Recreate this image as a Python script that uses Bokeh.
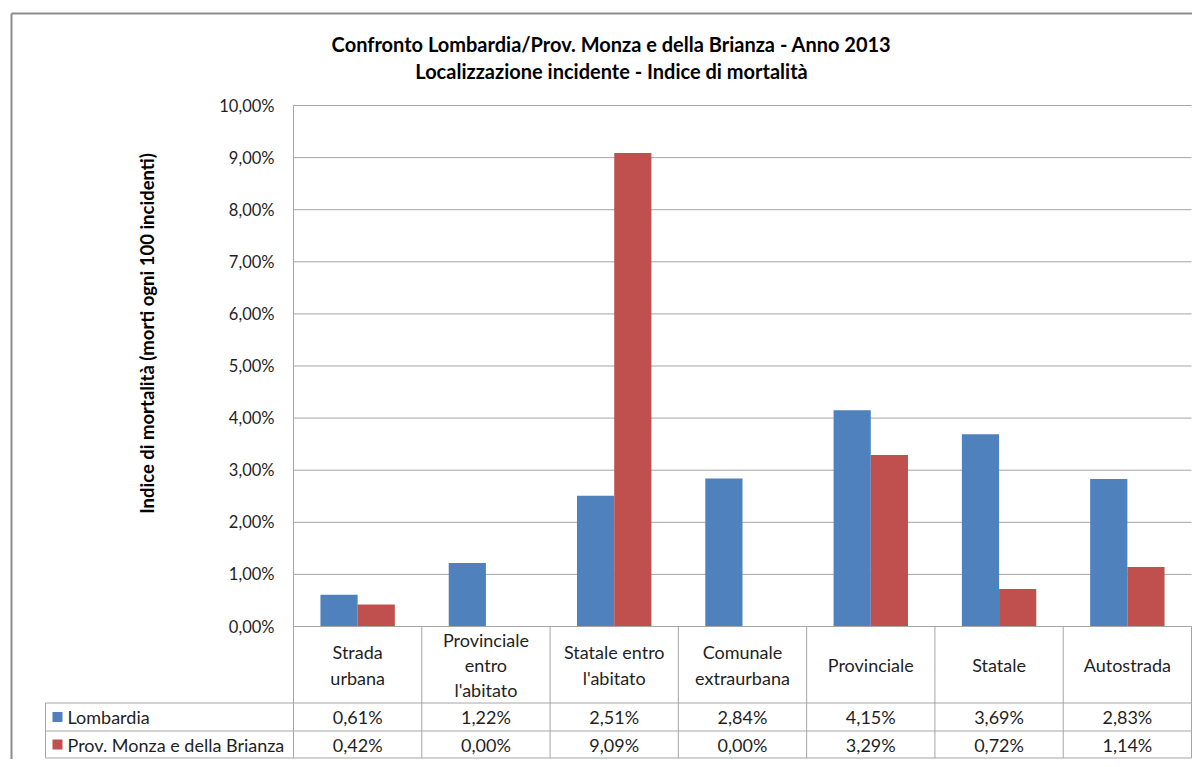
import math
from bokeh.plotting import figure
from bokeh.models import ColumnDataSource, Range1d
from bokeh.core.properties import value
from bokeh.embed import file_html
from bokeh.resources import INLINE

# ---------------- data ----------------
categories = ["Strada\nurbana", "Provinciale\nentro\nl'abitato", "Statale entro\nl'abitato",
              "Comunale\nextraurbana", "Provinciale", "Statale", "Autostrada"]
series_names = ["Lombardia", "Prov. Monza e della Brianza"]
lombardia = [0.61, 1.22, 2.51, 2.84, 4.15, 3.69, 2.83]
monza = [0.42, 0.00, 9.09, 0.00, 3.29, 0.72, 1.14]
y_ticks = [0, 1, 2, 3, 4, 5, 6, 7, 8, 9, 10]
y_tick_labels = ["0,00%", "1,00%", "2,00%", "3,00%", "4,00%", "5,00%",
                 "6,00%", "7,00%", "8,00%", "9,00%", "10,00%"]
title1 = "Confronto Lombardia/Prov. Monza e della Brianza - Anno 2013"
title2 = "Localizzazione incidente - Indice di mortalità"
y_title = "Indice di mortalità (morti ogni 100 incidenti)"
colors = ["#4F81BD", "#C0504D"]

def pct(v):
    return ("%.2f" % v).replace(".", ",") + "%"

# ---------------- layout ----------------
W, H = 1192, 759
PL, PR, PT, PB = 293, 1191, 105, 626          # plot area in pixels
n = len(categories)
kx = (PR - PL) / n
ky = (PB - PT) / 10.0

def dx(X):
    return (X - PL) / kx

def dy(Y):
    return (PB - Y) / ky

p = figure(width=W, height=H, output_backend="svg", toolbar_location=None,
           x_range=Range1d(dx(0), dx(W)), y_range=Range1d(dy(H), dy(0)),
           x_axis_location=None, y_axis_location=None, min_border=0,
           outline_line_color=None, background_fill_color="white",
           border_fill_color="white")
p.xgrid.visible = False
p.ygrid.visible = False

FONT = value("Lato")
TXT = "#1F1F1F"
GRID = "#A6A6A6"

# outer chart border
p.segment(x0=[dx(11), dx(11)], y0=[dy(13), dy(13)], x1=[dx(1250), dx(11)], y1=[dy(13), dy(820)],
          line_color="#8C8C8C", line_width=2)

# titles
p.text(x=[dx(611)], y=[dy(43)], text=[title1], text_font=FONT, text_font_style="bold",
       text_font_size="20px", text_align="center", text_baseline="middle", text_color="black")
p.text(x=[dx(611)], y=[dy(70)], text=[title2], text_font=FONT, text_font_style="bold",
       text_font_size="20px", text_align="center", text_baseline="middle", text_color="black")
p.text(x=[dx(146)], y=[dy(333)], text=[y_title], angle=math.pi / 2, text_font=FONT,
       text_font_style="bold", text_font_size="18.5px", text_align="center",
       text_baseline="middle", text_color="black")

# gridlines
p.segment(x0=[0] * len(y_ticks), x1=[n] * len(y_ticks), y0=y_ticks, y1=y_ticks,
          line_color=GRID, line_width=1)
# y tick labels
p.text(x=[dx(274)] * len(y_ticks), y=y_ticks, text=y_tick_labels, text_font=FONT,
       text_font_size="16.5px", text_align="right", text_baseline="middle", text_color=TXT)

# bars
bw = 0.29
src = ColumnDataSource(dict(
    xb=[i + 0.5 - bw / 2 for i in range(n)],
    xr=[i + 0.5 + bw / 2 for i in range(n)],
    lom=lombardia, mon=monza))
p.vbar(x="xb", top="lom", bottom=0, width=bw, source=src, fill_color=colors[0], line_color=None)
p.vbar(x="xr", top="mon", bottom=0, width=bw, source=src, fill_color=colors[1], line_color=None)

# table grid
r1, r2, r3 = dy(702.5), dy(730.5), dy(757.5)
xl = dx(45)
p.segment(x0=[0, xl, xl, xl], x1=[n, n, n, n], y0=[0, r1, r2, r3], y1=[0, r1, r2, r3],
          line_color=GRID, line_width=1)
p.segment(x0=[0], x1=[0], y0=[10], y1=[0], line_color=GRID, line_width=1)
p.segment(x0=list(range(n + 1)), x1=list(range(n + 1)), y0=[0] * (n + 1), y1=[r3] * (n + 1),
          line_color=GRID, line_width=1)
p.segment(x0=[xl], x1=[xl], y0=[r1], y1=[r3], line_color=GRID, line_width=1)

# category labels
p.text(x=[i + 0.5 for i in range(n)], y=[dy(664.5)] * n, text=categories, text_font=FONT,
       text_font_size="18px", text_align="center", text_baseline="middle",
       text_line_height=1.15, text_color=TXT)

# value rows
ylom, ymon = dy(716.5), dy(744)
p.text(x=[i + 0.5 for i in range(n)], y=[ylom] * n, text=[pct(v) for v in lombardia],
       text_font=FONT, text_font_size="18px", text_align="center", text_baseline="middle",
       text_color=TXT)
p.text(x=[i + 0.5 for i in range(n)], y=[ymon] * n, text=[pct(v) for v in monza],
       text_font=FONT, text_font_size="18px", text_align="center", text_baseline="middle",
       text_color=TXT)

# legend keys in table
p.rect(x=[dx(57), dx(57)], y=[ylom, ymon], width=10 / kx, height=10 / ky,
       fill_color=colors, line_color=None)
p.text(x=[dx(67), dx(67)], y=[ylom, ymon], text=series_names, text_font=FONT,
       text_font_size="18px", text_align="left", text_baseline="middle", text_color=TXT)

open("out.html", "w").write(file_html(p, INLINE))
